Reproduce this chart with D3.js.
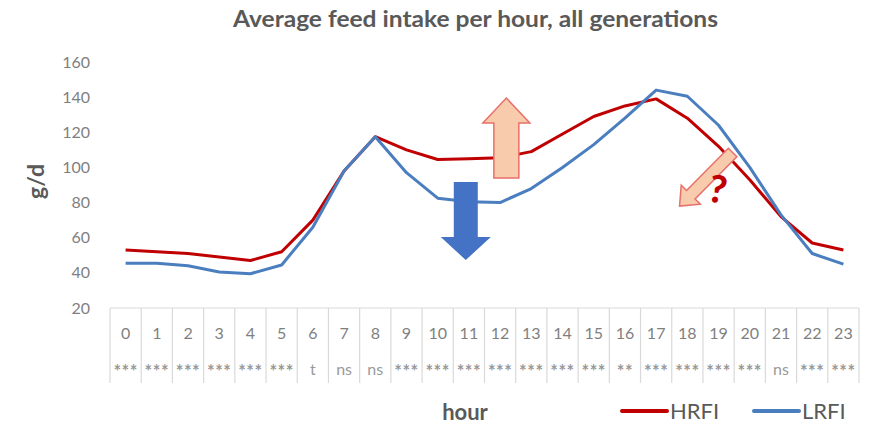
<!DOCTYPE html>
<html>
<head>
<meta charset="utf-8">
<script src="https://cdn.jsdelivr.net/npm/d3@7"></script>
<style>
  body { margin: 0; background: #fff; }
  svg { font-family: Lato, "Open Sans", sans-serif; }
</style>
</head>
<body>
<svg id="chart" width="877" height="429"></svg>
<script>
var width = 877;
var height = 429;
var margin = {top: 62, right: 18, bottom: 121, left: 110};

// data
var hours = d3.range(0, 24);
var hrfi = [53, 52, 51, 49, 47, 52, 70, 98, 117.5, 110, 104.5, 105, 105.5, 109, 119, 129, 135, 139, 128, 112, 93, 72, 57, 53];
var lrfi = [45.5, 45.5, 44, 40.5, 39.5, 44.5, 66, 98, 117.5, 97, 82.5, 80.5, 80, 88, 100, 113, 128, 144, 140.5, 124, 100, 73, 51, 45];
var signif = ["***", "***", "***", "***", "***", "***", "t", "ns", "ns", "***", "***", "***", "***",
              "***", "***", "***", "**", "***", "***", "***", "***", "ns", "***", "***"];
var yTicks = [20, 40, 60, 80, 100, 120, 140, 160];
var seriesNames = ["HRFI", "LRFI"];
var seriesColors = ["#c00000", "#4a7ebf"];

var svg = d3.select("#chart");

var x = d3.scaleBand()
    .domain(hours)
    .range([margin.left, width - margin.right])
    .padding(0);

var y = d3.scaleLinear()
    .domain([20, 160])
    .range([height - margin.bottom, margin.top]);

// continuous hour position (for lines and annotations)
function xh(h) { return x(0) + h * x.step() + x.bandwidth() / 2; }

// title
svg.append("text")
    .attr("x", 233)
    .attr("y", 27)
    .attr("textLength", 485)
    .attr("lengthAdjust", "spacingAndGlyphs")
    .style("font-size", "23px")
    .style("font-weight", "bold")
    .style("fill", "#595959")
    .text("Average feed intake per hour, all generations");

// y axis (labels only)
var yAxis = d3.axisLeft(y).tickValues(yTicks).tickSize(0).tickPadding(20);
var gy = svg.append("g")
    .attr("transform", "translate(" + margin.left + ",0)")
    .call(yAxis);
gy.select(".domain").remove();
gy.selectAll("text")
    .style("font-size", "16px")
    .style("font-family", "Lato, 'Open Sans', sans-serif")
    .style("fill", "#7f7f7f");

svg.append("text")
    .attr("transform", "translate(44," + y(92) + ") rotate(-90)")
    .attr("text-anchor", "middle")
    .style("font-size", "23px")
    .style("font-weight", "bold")
    .style("fill", "#595959")
    .text("g/d");

// table under the x axis
var tableTop = y(20);
var tableBottom = tableTop + 75;
svg.append("line")
    .attr("x1", x.range()[0]).attr("x2", x.range()[1])
    .attr("y1", tableTop).attr("y2", tableTop)
    .style("stroke", "#d9d9d9").style("stroke-width", 1.2);

svg.selectAll(".sep")
    .data(d3.range(0, 25))
    .enter().append("line")
    .attr("class", "sep")
    .attr("x1", function(d) { return x(0) + d * x.step(); })
    .attr("x2", function(d) { return x(0) + d * x.step(); })
    .attr("y1", tableTop)
    .attr("y2", tableBottom)
    .style("stroke", "#d9d9d9")
    .style("stroke-width", 1.2);

svg.selectAll(".hourlab")
    .data(hours)
    .enter().append("text")
    .attr("class", "hourlab")
    .attr("x", function(d) { return xh(d); })
    .attr("y", tableTop + 31)
    .attr("text-anchor", "middle")
    .style("font-size", "16px")
    .style("fill", "#7f7f7f")
    .text(function(d) { return d; });

svg.selectAll(".siglab")
    .data(signif)
    .enter().append("text")
    .attr("class", "siglab")
    .attr("x", function(d, i) { return xh(i); })
    .attr("y", function(d) { return d.indexOf("*") >= 0 ? tableTop + 70 : tableTop + 67; })
    .attr("text-anchor", "middle")
    .style("font-size", function(d) { return d.indexOf("*") >= 0 ? "18px" : "16px"; })
    .style("font-weight", function(d) { return d.indexOf("*") >= 0 ? "bold" : "normal"; })
    .style("letter-spacing", function(d) { return d.indexOf("*") >= 0 ? "0.5px" : "0px"; })
    .style("fill", "#999999")
    .text(function(d) { return d; });

svg.append("text")
    .attr("x", 465)
    .attr("y", 420)
    .attr("text-anchor", "middle")
    .style("font-size", "22px")
    .style("font-weight", "bold")
    .style("fill", "#595959")
    .text("hour");

// lines
var line = d3.line()
    .x(function(d, i) { return xh(i); })
    .y(function(d) { return y(d); });

[hrfi, lrfi].forEach(function(s, i) {
    svg.append("path")
        .datum(s)
        .attr("d", line)
        .style("fill", "none")
        .style("stroke", seriesColors[i])
        .style("stroke-width", 3)
        .style("stroke-linejoin", "round");
});

// arrow annotations: from (h0,v0) tail to (h1,v1) tip, in data units
function arrowPath(h0, v0, h1, v1, shaftW, headW, headL) {
    var x0 = xh(h0), y0 = y(v0), x1 = xh(h1), y1 = y(v1);
    var dx = x1 - x0, dy = y1 - y0, len = Math.sqrt(dx * dx + dy * dy);
    var ux = dx / len, uy = dy / len, px = -uy, py = ux;
    var bx = x1 - ux * headL, by = y1 - uy * headL;
    var pts = [
        [x0 + px * shaftW / 2, y0 + py * shaftW / 2],
        [bx + px * shaftW / 2, by + py * shaftW / 2],
        [bx + px * headW / 2, by + py * headW / 2],
        [x1, y1],
        [bx - px * headW / 2, by - py * headW / 2],
        [bx - px * shaftW / 2, by - py * shaftW / 2],
        [x0 - px * shaftW / 2, y0 - py * shaftW / 2]
    ];
    return "M" + pts.map(function(p) { return p[0] + "," + p[1]; }).join("L") + "Z";
}

svg.append("path")
    .attr("d", arrowPath(12.2, 94, 12.2, 139.5, 25, 47, 25))
    .style("fill", "#f8cbad")
    .style("stroke", "#e8706a")
    .style("stroke-width", 1.5);

svg.append("path")
    .attr("d", arrowPath(10.9, 91.7, 10.9, 47.3, 24, 50, 23))
    .style("fill", "#4472c4");

svg.append("path")
    .attr("d", arrowPath(19.45, 108.5, 17.75, 78, 12, 27, 16))
    .style("fill", "#f8cbad")
    .style("stroke", "#e8706a")
    .style("stroke-width", 1.5);

svg.append("text")
    .attr("x", xh(18.9))
    .attr("y", y(80))
    .attr("text-anchor", "middle")
    .attr("transform", "rotate(10," + xh(18.9) + "," + y(80) + ")")
    .style("font-size", "38px")
    .style("font-weight", "900")
    .style("fill", "#c00000")
    .text("?");

// legend
var legendX = [622, 754];
seriesNames.forEach(function(n, i) {
    svg.append("line")
        .attr("x1", legendX[i]).attr("x2", legendX[i] + 45)
        .attr("y1", 411).attr("y2", 411)
        .style("stroke", seriesColors[i])
        .style("stroke-width", 4)
        .style("stroke-linecap", "round");
    svg.append("text")
        .attr("x", legendX[i] + 48)
        .attr("y", 419)
        .style("font-size", "22px")
        .style("fill", "#595959")
        .text(n);
});
</script>
</body>
</html>
